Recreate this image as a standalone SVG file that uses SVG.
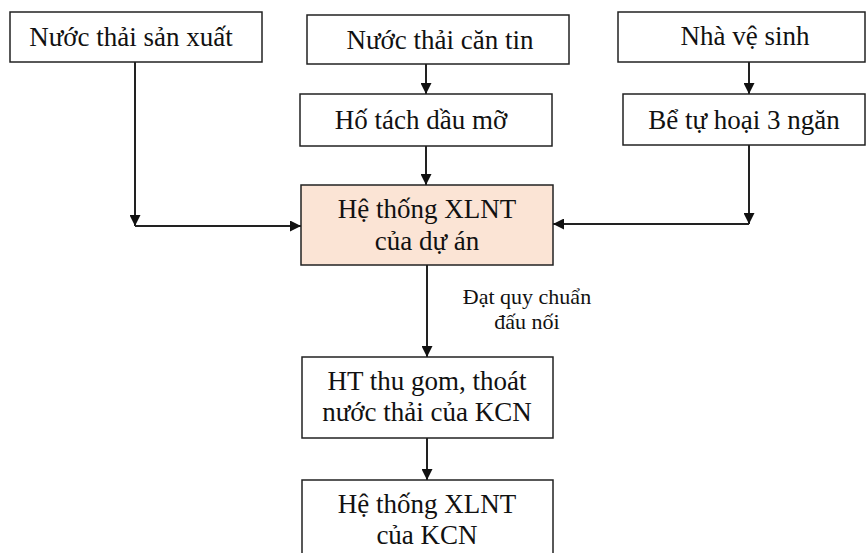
<svg xmlns="http://www.w3.org/2000/svg" width="867" height="553" viewBox="0 0 867 553">
<style>
.box{fill:#fff;stroke:#222;stroke-width:1.5}
.hi{fill:#FBE4D5;stroke:#222;stroke-width:1.5}
.t{font-family:"Liberation Serif","Times New Roman",serif;font-size:27px;fill:#111;text-anchor:middle}
.s{font-family:"Liberation Serif","Times New Roman",serif;font-size:22px;fill:#111;text-anchor:middle}
.c{fill:none;stroke:#222;stroke-width:2}
</style>
<defs>
<marker id="ah" viewBox="0 0 10 10" refX="10" refY="5" markerWidth="12" markerHeight="11" markerUnits="userSpaceOnUse" orient="auto">
<path d="M0,0 L10,5 L0,10 z" fill="#111"/>
</marker>
</defs>
<rect width="867" height="553" fill="#fff"/>
<g id="connectors">
<path class="c" d="M135,62 V226" marker-end="url(#ah)"/>
<path class="c" d="M135,226 H301" marker-end="url(#ah)"/>
<path class="c" d="M426,64 V94" marker-end="url(#ah)"/>
<path class="c" d="M426,146 V185" marker-end="url(#ah)"/>
<path class="c" d="M749,62 V94" marker-end="url(#ah)"/>
<path class="c" d="M749,145 V224" marker-end="url(#ah)"/>
<path class="c" d="M749,224 H553" marker-end="url(#ah)"/>
<path class="c" d="M427,265 V357" marker-end="url(#ah)"/>
<path class="c" d="M427,438 V480" marker-end="url(#ah)"/>
<text class="s" x="527" y="304">Đạt quy chuẩn</text>
<text class="s" x="527" y="329">đấu nối</text>
</g>
<g id="n1"><rect class="box" x="10" y="12" width="252" height="50"/><text class="t" x="131" y="46">Nước thải sản xuất</text></g>
<g id="n2"><rect class="box" x="307" y="15" width="262" height="49"/><text class="t" x="440" y="49">Nước thải căn tin</text></g>
<g id="n3"><rect class="box" x="300" y="94" width="252" height="52"/><text class="t" x="421" y="129">Hố tách dầu mỡ</text></g>
<g id="n4"><rect class="box" x="618" y="12" width="247" height="50"/><text class="t" x="745" y="45">Nhà vệ sinh</text></g>
<g id="n5"><rect class="box" x="623" y="94" width="242" height="51"/><text class="t" x="744" y="129">Bể tự hoại 3 ngăn</text></g>
<g id="n6"><rect class="hi" x="301" y="185" width="252" height="80"/><text class="t" x="427" y="218">Hệ thống XLNT</text><text class="t" x="427" y="250">của dự án</text></g>
<g id="n7"><rect class="box" x="302" y="357" width="251" height="81"/><text class="t" x="427" y="390">HT thu gom, thoát</text><text class="t" x="427" y="421">nước thải của KCN</text></g>
<g id="n8"><rect class="box" x="302" y="480" width="251" height="80"/><text class="t" x="427" y="513">Hệ thống XLNT</text><text class="t" x="427" y="544">của KCN</text></g>
</svg>
